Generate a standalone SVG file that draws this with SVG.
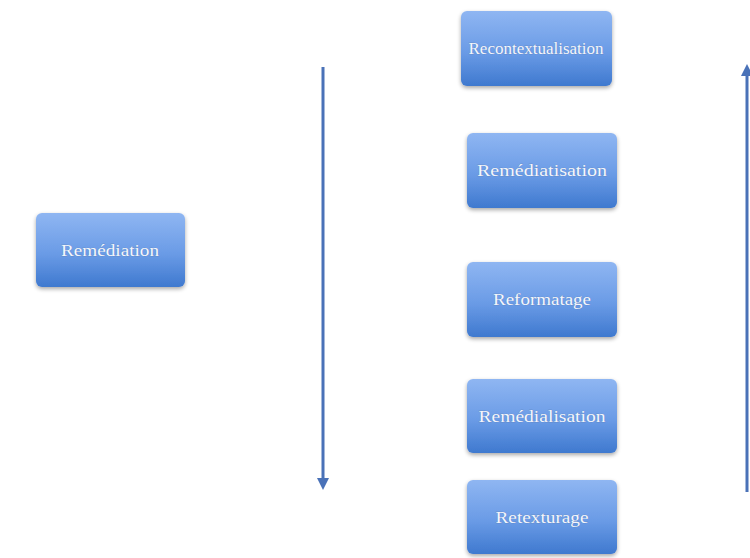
<svg xmlns="http://www.w3.org/2000/svg" width="750" height="558" viewBox="0 0 750 558">
<defs>
<linearGradient id="g" x1="0" y1="0" x2="0" y2="1">
<stop offset="0" stop-color="#8fb6f2"/>
<stop offset="0.55" stop-color="#6a9be6"/>
<stop offset="1" stop-color="#3f79cf"/>
</linearGradient>
<filter id="sh" x="-20%" y="-20%" width="140%" height="150%">
<feGaussianBlur in="SourceAlpha" stdDeviation="2"/>
<feOffset dy="2" result="b"/>
<feComponentTransfer><feFuncA type="linear" slope="0.35"/></feComponentTransfer>
<feMerge><feMergeNode/><feMergeNode in="SourceGraphic"/></feMerge>
</filter>
<marker id="ah" viewBox="0 0 10 10" refX="5" refY="5" markerWidth="4" markerHeight="4" orient="auto-start-reverse" markerUnits="strokeWidth">
<path d="M0,0 L10,5 L0,10 z" fill="#4a72b8"/>
</marker>
</defs>
<style>
.box{fill:url(#g);filter:url(#sh)}
.t{font-family:"Liberation Serif","DejaVu Serif",serif;font-size:16px;fill:#f4f6fb;stroke:#5a7fb8;stroke-width:0.4px;paint-order:stroke;text-anchor:middle;dominant-baseline:central}
.c{stroke:#4a72b8;stroke-width:3;fill:none}
</style>
<rect width="750" height="558" fill="#ffffff"/>
<g id="connectors">
<line class="c" x1="323" y1="67" x2="323" y2="484" marker-end="url(#ah)"/>
<line class="c" x1="747" y1="492" x2="747" y2="70" marker-end="url(#ah)"/>
</g>
<g id="remediation"><rect class="box" x="36" y="213" width="149" height="74" rx="6"/><text class="t" x="110" y="250" textLength="98" lengthAdjust="spacingAndGlyphs">Remédiation</text></g>
<g id="recontextualisation"><rect class="box" x="461" y="11" width="151" height="75" rx="6"/><text class="t" x="536" y="48" textLength="135" lengthAdjust="spacingAndGlyphs">Recontextualisation</text></g>
<g id="remediatisation"><rect class="box" x="467" y="133" width="150" height="75" rx="6"/><text class="t" x="542" y="170" textLength="130" lengthAdjust="spacingAndGlyphs">Remédiatisation</text></g>
<g id="reformatage"><rect class="box" x="467" y="262" width="150" height="75" rx="6"/><text class="t" x="542" y="299" textLength="98" lengthAdjust="spacingAndGlyphs">Reformatage</text></g>
<g id="remedialisation"><rect class="box" x="467" y="379" width="150" height="74" rx="6"/><text class="t" x="542" y="416" textLength="127" lengthAdjust="spacingAndGlyphs">Remédialisation</text></g>
<g id="retexturage"><rect class="box" x="467" y="480" width="150" height="74" rx="6"/><text class="t" x="542" y="517" textLength="93" lengthAdjust="spacingAndGlyphs">Retexturage</text></g>
</svg>
